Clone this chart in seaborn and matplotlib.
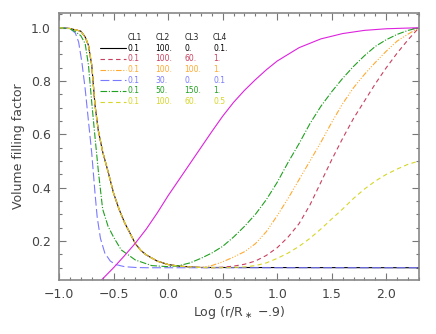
import pandas as pd
import seaborn as sns
import matplotlib.pyplot as plt
from matplotlib.ticker import MultipleLocator

# decline shared by the CL2 = 100 models
x_decl = [-1.0, -0.9, -0.8, -0.76, -0.73, -0.7, -0.67, -0.64, -0.6, -0.55, -0.5,
          -0.45, -0.4, -0.35, -0.3, -0.25, -0.2, -0.1, 0.0, 0.1, 0.2, 0.3]
y_decl = [1.0, 0.997, 0.987, 0.965, 0.934, 0.86, 0.71, 0.615, 0.535, 0.46, 0.38,
          0.32, 0.27, 0.23, 0.19, 0.165, 0.148, 0.125, 0.112, 0.106, 0.103, 0.101]

x_rise = [0.4, 0.5, 0.6, 0.7, 0.8, 0.9, 1.0, 1.1, 1.2, 1.3, 1.4, 1.5, 1.6, 1.7,
          1.8, 1.9, 2.0, 2.1, 2.2, 2.3]
y_red = [0.1, 0.102, 0.106, 0.113, 0.125, 0.146, 0.175, 0.215, 0.265, 0.335, 0.42,
         0.505, 0.585, 0.66, 0.725, 0.79, 0.85, 0.905, 0.955, 1.0]
y_orange = [0.108, 0.122, 0.14, 0.16, 0.19, 0.235, 0.295, 0.36, 0.43, 0.5, 0.57,
            0.645, 0.715, 0.775, 0.825, 0.87, 0.912, 0.95, 0.976, 1.0]
y_yellow = [0.1, 0.1, 0.101, 0.103, 0.108, 0.118, 0.135, 0.155, 0.18, 0.21, 0.245,
            0.283, 0.32, 0.36, 0.395, 0.425, 0.45, 0.47, 0.488, 0.5]

x_blue = [-1.0, -0.9, -0.85, -0.82, -0.79, -0.76, -0.73, -0.7, -0.67, -0.65, -0.62,
          -0.58, -0.53, -0.48, -0.4, -0.3, -0.2, 2.3]
y_blue = [1.0, 0.997, 0.98, 0.946, 0.87, 0.77, 0.65, 0.53, 0.38, 0.29, 0.21,
          0.155, 0.125, 0.112, 0.104, 0.101, 0.1, 0.1]

x_green = [-1.0, -0.9, -0.85, -0.8, -0.76, -0.73, -0.7, -0.67, -0.64, -0.6, -0.55,
           -0.5, -0.43, -0.3, -0.15, 0.0, 0.1, 0.2, 0.3, 0.4, 0.5, 0.6, 0.7, 0.8,
           0.9, 1.0, 1.1, 1.2, 1.3, 1.4, 1.5, 1.6, 1.7, 1.8, 1.9, 2.0, 2.1, 2.2, 2.3]
y_green = [1.0, 0.996, 0.985, 0.97, 0.94, 0.86, 0.72, 0.59, 0.465, 0.32, 0.255,
           0.215, 0.167, 0.129, 0.108, 0.104, 0.108, 0.118, 0.135, 0.155, 0.18, 0.215,
           0.255, 0.30, 0.355, 0.42, 0.495, 0.565, 0.64, 0.705, 0.76, 0.81, 0.855,
           0.895, 0.93, 0.955, 0.975, 0.99, 1.0]

x_mag = [-0.62, -0.5, -0.4, -0.3, -0.2, -0.1, 0.0, 0.1, 0.2, 0.3, 0.4, 0.5, 0.6,
         0.7, 0.8, 0.9, 1.0, 1.2, 1.4, 1.6, 1.8, 2.0, 2.3]
y_mag = [0.05, 0.1, 0.145, 0.192, 0.245, 0.305, 0.37, 0.43, 0.49, 0.55, 0.61, 0.668,
         0.72, 0.765, 0.805, 0.842, 0.875, 0.925, 0.958, 0.978, 0.99, 0.996, 1.0]

cl_header = ["CL1", "CL2", "CL3", "CL4"]
cl_rows = [["0.1", "100.", "0.", "0.1."],
           ["0.1", "100.", "60.", "1."],
           ["0.1", "100.", "100.", "1."],
           ["0.1", "30.", "0.", "0.1"],
           ["0.1", "50.", "150.", "1."],
           ["0.1", "100.", "60.", "0.5"]]

c_black, c_red, c_orange = "#000000", "#c8405f", "#ffaa30"
c_blue, c_green, c_yellow, c_mag = "#7a7aff", "#20a020", "#d6d62a", "#dd22dd"

series = [
    (x_decl + [2.3], y_decl + [0.1], c_black, "-"),
    (x_decl + x_rise, y_decl + y_red, c_red, (0, (4, 3))),
    (x_decl + x_rise, y_decl + y_orange, c_orange, (0, (5, 1.5, 1, 1.5, 1, 1.5, 1, 1.5))),
    (x_blue, y_blue, c_blue, (0, (8, 3))),
    (x_green, y_green, c_green, (0, (6, 1.5, 1, 1.5))),
    (x_decl + x_rise, y_decl + y_yellow, c_yellow, (0, (4, 3))),
]

sns.set_style("ticks")
plt.rcParams["font.family"] = ["DejaVu Sans"]

fig = plt.figure(figsize=(4.36, 3.34), dpi=100)
ax = fig.add_axes([59 / 436, 54 / 334, 360 / 436, 266.7 / 334])

for xs, ys, col, ls in series:
    df = pd.DataFrame({"x": xs, "y": ys})
    sns.lineplot(data=df, x="x", y="y", sort=False, estimator=None, color=col,
                 linestyle=ls, linewidth=0.8, ax=ax)
sns.lineplot(data=pd.DataFrame({"x": x_mag, "y": y_mag}), x="x", y="y", sort=False,
             estimator=None, color=c_mag, linewidth=0.8, ax=ax)

ax.set_xlim(-1.0, 2.3)
ax.set_ylim(0.054, 1.054)
ax.xaxis.set_major_locator(MultipleLocator(0.5))
ax.xaxis.set_minor_locator(MultipleLocator(0.1))
ax.yaxis.set_major_locator(MultipleLocator(0.2))
ax.yaxis.set_minor_locator(MultipleLocator(0.05))
ax.set_yticks([0.2, 0.4, 0.6, 0.8, 1.0])
ax.tick_params(which="both", direction="in", top=True, right=True, color="#777777",
               labelcolor="#444444", labelsize=9, pad=6)
ax.tick_params(which="major", length=5, width=0.8)
ax.tick_params(which="minor", length=2.5, width=0.8)
for sp in ax.spines.values():
    sp.set_color("#888888")
    sp.set_linewidth(1.2)

ax.set_xlabel("Log (r/R$_\\ast$ \u2212.9)", fontsize=9, color="#444444", labelpad=2)
ax.set_ylabel("Volume filling factor", fontsize=9, color="#444444", labelpad=4)

# table legend
col_x = [0.19, 0.268, 0.348, 0.428]
tr = ax.transAxes
for cx, h in zip(col_x, cl_header):
    ax.text(cx, 0.911, h, transform=tr, fontsize=5.5, color="#222222", va="center")
colors = [c_black, c_red, c_orange, c_blue, c_green, c_yellow]
styles = [s[3] for s in series]
for i, (row, col, ls) in enumerate(zip(cl_rows, colors, styles)):
    yy = 0.869 - i * 0.04
    ax.plot([0.114, 0.185], [yy, yy], transform=tr, color=col, linestyle=ls, linewidth=0.8)
    for cx, v in zip(col_x, row):
        ax.text(cx, yy, v, transform=tr, fontsize=5.5, color=col, va="center")

fig.savefig("out.png", dpi=100)
